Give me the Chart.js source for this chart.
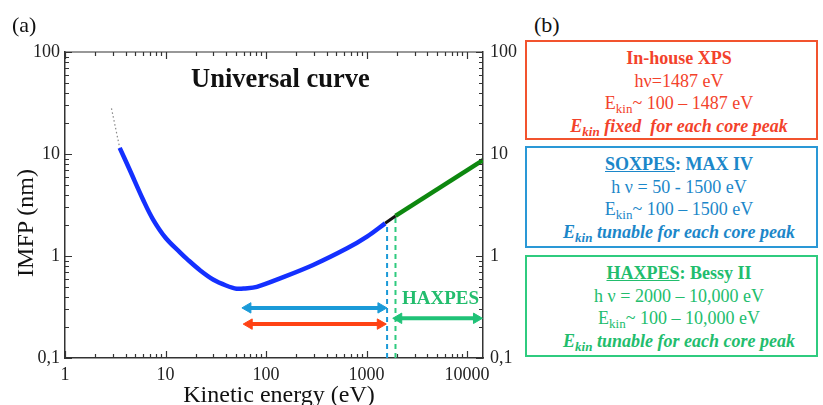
<!DOCTYPE html>
<html>
<head>
<meta charset="utf-8">
<script src="https://cdn.jsdelivr.net/npm/chart.js@4.4.1/dist/chart.umd.min.js"></script>
<style>
  body { margin: 0; width: 823px; height: 405px; overflow: hidden; background: #fff; position: relative;
         font-family: 'Liberation Serif', 'Times New Roman', serif; }
  #wrap { position: absolute; left: 0; top: 0; width: 520px; height: 405px; }
  .lbl { position: absolute; white-space: nowrap; line-height: 1; color: #111; }
  .box { position: absolute; left: 525px; width: 293px; box-sizing: border-box; border: 2px solid;
         padding: 5px 0 0 15px; text-align: center; font-size: 18px; line-height: 22.5px; white-space: nowrap; }
  .box sub { font-size: 13px; vertical-align: -4px; line-height: 0; }
  .red { top: 40px; height: 100px; border-color: #f2532e; color: #f3422b; }
  .blue { top: 146px; height: 102px; border-color: #2a98d6; color: #1c87c9; }
  .green { top: 255px; height: 102px; border-color: #2fcb7f; color: #22bd6d; }
</style>
</head>
<body>
<div id="wrap"><canvas id="imfp" width="520" height="405"></canvas></div>

<div class="lbl" style="left:12px;top:14px;font-size:22px;">(a)</div>
<div class="lbl" style="left:534px;top:14px;font-size:22px;">(b)</div>
<div class="lbl" style="left:191px;top:65px;font-size:26.5px;font-weight:bold;">Universal curve</div>
<div class="lbl" style="left:402px;top:288px;font-size:19px;font-weight:bold;color:#22bd6d;">HAXPES</div>
<div class="lbl" style="left:279px;top:382px;font-size:24px;transform:translateX(-50%);">Kinetic energy (eV)</div>
<div class="lbl" style="left:25px;top:223px;font-size:24px;transform:translate(-50%,-50%) rotate(-90deg);">IMFP (nm)</div>

<div class="box red">
  <div><b>In-house XPS</b></div>
  <div>hν=1487 eV</div>
  <div>E<sub>kin</sub>~ 100 – 1487 eV</div>
  <div><b><i>E<sub>kin</sub> fixed&nbsp; for each core peak</i></b></div>
</div>
<div class="box blue">
  <div><b><u>SOXPES</u>: MAX IV</b></div>
  <div>h ν = 50 - 1500 eV</div>
  <div>E<sub>kin</sub>~ 100 – 1500 eV</div>
  <div><b><i>E<sub>kin</sub> tunable for each core peak</i></b></div>
</div>
<div class="box green">
  <div><b><u>HAXPES</u>: Bessy II</b></div>
  <div>h ν = 2000 – 10,000 eV</div>
  <div>E<sub>kin</sub>~ 100 – 10,000 eV</div>
  <div><b><i>E<sub>kin</sub> tunable for each core peak</i></b></div>
</div>

<script>
// universal curve (eV, nm)
const curveE = [3.5, 4.4, 6, 7.5, 10, 14, 16.3, 22, 30, 40, 51, 62, 81, 138, 294, 640, 1010, 1530];
const curveL = [11.5, 7.0, 3.54, 2.29, 1.51, 1.08, 0.937, 0.726, 0.585, 0.514, 0.478, 0.481, 0.499, 0.604, 0.817, 1.19, 1.55, 2.09];

// dotted extrapolation below 3.5 eV
const extrapE = [2.9, 3.5];
const extrapL = [28, 11.5];

// black joint between soft and hard x-ray ranges
const joinE = [1530, 1940];
const joinL = [2.09, 2.47];

// HAXPES range (green)
const hardE = [1940, 14400];
const hardL = [2.47, 8.7];

// dashed vertical limits
const sxCutE = [1600, 1600];
const sxCutL = [0.1, 2.15];
const hxCutE = [1940, 1940];
const hxCutL = [0.1, 2.47];

// arrows (end points)
const soxArrowE = [66, 1390];
const soxArrowL = [0.31, 0.31];
const xpsArrowE = [68, 1370];
const xpsArrowL = [0.215, 0.215];
const haxArrowE = [2090, 12400];
const haxArrowL = [0.245, 0.245];

// tick labels
const xTickVals = [1, 10, 100, 1000, 10000];
const yTickVals = [0.1, 1, 10, 100];
const yTickText = ['0,1', '1', '10', '100'];

const serif = "'Liberation Serif', 'Times New Roman', serif";
const pts = (xs, ys) => xs.map((x, i) => ({ x: x, y: ys[i] }));
const near = (a, b) => Math.abs(a - b) < 1e-9 * Math.max(1, b);

function isDecade(v) {
  const l = Math.log10(v);
  return Math.abs(l - Math.round(l)) < 1e-6;
}
function isNice(v) {
  const s = v / Math.pow(10, Math.floor(Math.log10(v) + 1e-9));
  return Math.abs(s - Math.round(s)) < 1e-6;
}

// inward tick marks on all four sides + top frame line
const innerTicks = {
  id: 'innerTicks',
  afterDraw(chart) {
    const { ctx, chartArea: a, scales } = chart;
    ctx.save();
    ctx.strokeStyle = '#333';
    ctx.lineWidth = 1.2;
    ctx.beginPath();
    ctx.moveTo(a.left, a.top);
    ctx.lineTo(a.right, a.top);
    scales.x.ticks.forEach(t => {
      if (!isNice(t.value)) return;
      const px = Math.round(scales.x.getPixelForValue(t.value)) + 0.5;
      const len = isDecade(t.value) ? 7 : 4;
      ctx.moveTo(px, a.bottom);
      ctx.lineTo(px, a.bottom - len);
      ctx.moveTo(px, a.top);
      ctx.lineTo(px, a.top + len);
    });
    scales.y.ticks.forEach(t => {
      if (!isNice(t.value)) return;
      const py = Math.round(scales.y.getPixelForValue(t.value)) + 0.5;
      const len = isDecade(t.value) ? 7 : 4;
      ctx.moveTo(a.left, py);
      ctx.lineTo(a.left + len, py);
      ctx.moveTo(a.right, py);
      ctx.lineTo(a.right - len, py);
    });
    ctx.stroke();
    ctx.restore();
  }
};

function arrow(xs, ys, color) {
  return {
    data: pts(xs, ys), showLine: true, borderColor: color, borderWidth: 4,
    pointStyle: 'triangle', pointRadius: 6, pointRotation: [-90, 90],
    pointBackgroundColor: color, pointBorderColor: color, pointBorderWidth: 1, clip: false
  };
}

const yAxis = (pos, width, pad) => ({
  type: 'logarithmic', min: 0.1, max: 100, position: pos,
  grid: { display: false, drawTicks: false },
  border: { display: true, color: '#333', width: 1.5 },
  ticks: {
    autoSkip: false, padding: pad, color: '#222', font: { family: serif, size: 18 },
    callback: v => {
      const i = yTickVals.findIndex(t => near(v, t));
      return i >= 0 ? yTickText[i] : '';
    }
  },
  afterFit: s => { s.width = width; }
});

new Chart(document.getElementById('imfp'), {
  type: 'scatter',
  data: {
    datasets: [
      arrow(soxArrowE, soxArrowL, '#1a9ad8'),
      arrow(xpsArrowE, xpsArrowL, '#ff4214'),
      arrow(haxArrowE, haxArrowL, '#1fc277'),
      { data: pts(extrapE, extrapL), showLine: true, borderColor: '#8a8a8a', borderWidth: 1.2, borderDash: [1.5, 2.5], pointRadius: 0 },
      { data: pts(curveE, curveL), showLine: true, borderColor: '#1430ff', borderWidth: 4.5, pointRadius: 0, tension: 0.35 },
      { data: pts(joinE, joinL), showLine: true, borderColor: '#111', borderWidth: 3, pointRadius: 0 },
      { data: pts(hardE, hardL), showLine: true, borderColor: '#0d880f', borderWidth: 4.5, pointRadius: 0 },
      { data: pts(sxCutE, sxCutL), showLine: true, borderColor: '#1a9ad8', borderWidth: 2, borderDash: [5, 4], pointRadius: 0 },
      { data: pts(hxCutE, hxCutL), showLine: true, borderColor: '#2fcb7f', borderWidth: 2, borderDash: [5, 4], pointRadius: 0 }
    ]
  },
  options: {
    responsive: false,
    animation: false,
    events: [],
    layout: { padding: { top: 52, left: 0, right: 0, bottom: 0 } },
    plugins: { legend: { display: false }, tooltip: { enabled: false } },
    scales: {
      x: {
        type: 'logarithmic', min: 1, max: 14400, position: 'bottom',
        grid: { display: false, drawTicks: false },
        border: { display: true, color: '#333', width: 1.5 },
        ticks: {
          autoSkip: false, maxRotation: 0, padding: 6, color: '#222', font: { family: serif, size: 18 },
          callback: v => (xTickVals.some(t => near(v, t)) ? String(v) : '')
        },
        afterFit: s => { s.height = 47; }
      },
      y: yAxis('left', 65, 5),
      y2: yAxis('right', 37, 7)
    }
  },
  plugins: [innerTicks]
});
</script>
</body>
</html>
